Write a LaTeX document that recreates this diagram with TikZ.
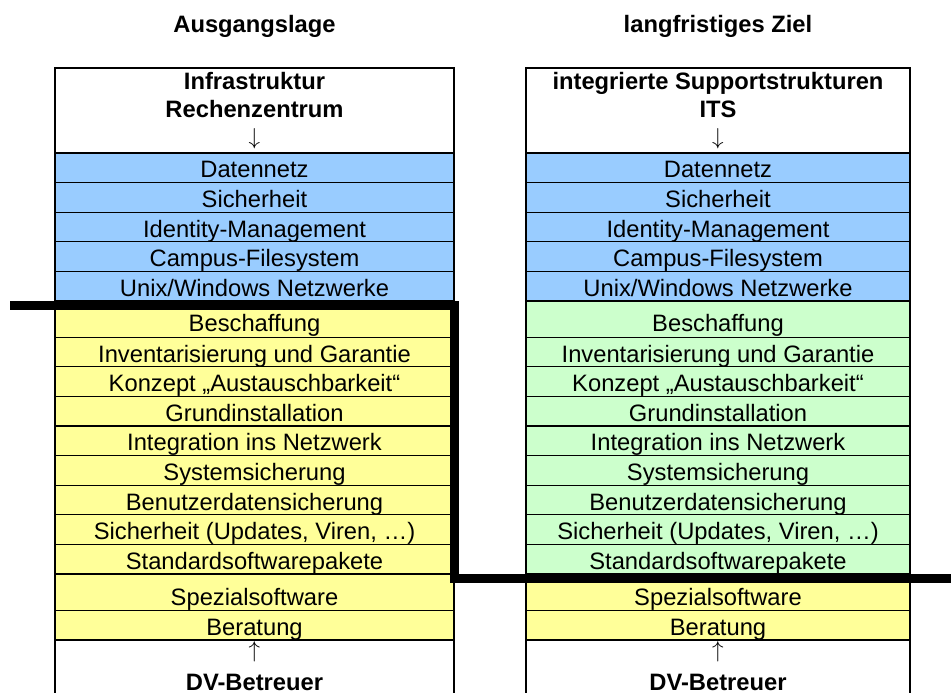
\documentclass[tikz,border=0pt]{standalone}
\usepackage{fontspec}
\setmainfont{Liberation Sans}
\usepackage{tikz}
\usetikzlibrary{
    calc,
    positioning
}
\definecolor{rzblue}{HTML}{99CCFF}
\definecolor{dvyellow}{HTML}{FFFF99}
\definecolor{itsgreen}{HTML}{CCFFCC}
\tikzstyle{frame}=[
    rectangle,
    draw=black,
    line width=0.9pt,
    inner sep=0pt,
    outer sep=0pt,
    align=center,
    font=\fontsize{17.8}{21.2}\selectfont
]
\tikzstyle{layer}=[
    frame,
    minimum height=22.2pt,
    text height=16.8pt,
    text depth=1.8pt
]
\tikzstyle{cut}=[line width=6.75pt,line join=miter,draw=black]

\begin{document}
\begin{tikzpicture}[
    node distance=0pt,
    leftcol/.style={minimum width=299.25pt},
    rightcol/.style={minimum width=288pt},
    tall/.style={minimum height=27.2pt,text height=20.5pt,text depth=1.3pt},
    netzrow/.style={layer,fill=rzblue},
    dvrow/.style={layer,fill=dvyellow},
    itsrow/.style={layer,fill=itsgreen},
    headbox/.style={frame,fill=white,minimum height=63.75pt,
    font=\fontsize{17.8}{20.2}\selectfont\bfseries},
    foot/.style={frame,fill=white,minimum height=63.75pt},
    foottext/.style={align=center,inner sep=1pt,anchor=north,
    font=\fontsize{17.8}{24.5}\selectfont\bfseries},
    title/.style={inner sep=0pt,text depth=0pt,
    font=\fontsize{17.8}{21.2}\selectfont\bfseries}
]
\useasboundingbox (0,0) rectangle (713.25pt,-519.75pt);
\node[headbox,leftcol] (rz) at (190.875pt,-82.875pt)
{Infrastruktur\\[1pt]Rechenzentrum\\$\downarrow$};
\node[headbox,rightcol,right=54pt of rz] (its)
{integrierte Supportstrukturen\\[1pt]ITS\\$\downarrow$};
\node[title,above=26.25pt of rz] (titel1) {Ausgangslage};
\node[title,above=26.25pt of its] (titel2) {langfristiges Ziel};
\node[netzrow,leftcol,below=of rz] (netz1) {Datennetz};
\node[netzrow,leftcol,below=of netz1] (sich1) {Sicherheit};
\node[netzrow,leftcol,below=of sich1] (idm1) {Identity-Management};
\node[netzrow,leftcol,below=of idm1] (campus1) {Campus-Filesystem};
\node[netzrow,leftcol,below=of campus1] (unix1) {Unix/Windows Netzwerke};
\node[dvrow,tall,leftcol,below=of unix1] (beschaff1) {Beschaffung};
\node[dvrow,leftcol,below=of beschaff1] (invent1) {Inventarisierung und Garantie};
\node[dvrow,leftcol,below=of invent1] (konzept1) {Konzept „Austauschbarkeit“};
\node[dvrow,leftcol,below=of konzept1] (grund1) {Grundinstallation};
\node[dvrow,leftcol,below=of grund1] (integ1) {Integration ins Netzwerk};
\node[dvrow,leftcol,below=of integ1] (syssich1) {Systemsicherung};
\node[dvrow,leftcol,below=of syssich1] (benutz1) {Benutzerdatensicherung};
\node[dvrow,leftcol,below=of benutz1] (update1) {Sicherheit (Updates, Viren, …)};
\node[dvrow,leftcol,below=of update1] (std1) {Standardsoftwarepakete};
\node[dvrow,tall,leftcol,below=of std1] (spezial1) {Spezialsoftware};
\node[dvrow,leftcol,below=of spezial1] (berat1) {Beratung};
\node[foot,leftcol,below=of berat1] (dv1) {};
\node[foottext] (dvtext1) at (dv1.north) {$\uparrow$\\DV-Betreuer};
\node[netzrow,rightcol,below=of its] (netz2) {Datennetz};
\node[netzrow,rightcol,below=of netz2] (sich2) {Sicherheit};
\node[netzrow,rightcol,below=of sich2] (idm2) {Identity-Management};
\node[netzrow,rightcol,below=of idm2] (campus2) {Campus-Filesystem};
\node[netzrow,rightcol,below=of campus2] (unix2) {Unix/Windows Netzwerke};
\node[itsrow,tall,rightcol,below=of unix2] (beschaff2) {Beschaffung};
\node[itsrow,rightcol,below=of beschaff2] (invent2) {Inventarisierung und Garantie};
\node[itsrow,rightcol,below=of invent2] (konzept2) {Konzept „Austauschbarkeit“};
\node[itsrow,rightcol,below=of konzept2] (grund2) {Grundinstallation};
\node[itsrow,rightcol,below=of grund2] (integ2) {Integration ins Netzwerk};
\node[itsrow,rightcol,below=of integ2] (syssich2) {Systemsicherung};
\node[itsrow,rightcol,below=of syssich2] (benutz2) {Benutzerdatensicherung};
\node[itsrow,rightcol,below=of benutz2] (update2) {Sicherheit (Updates, Viren, …)};
\node[itsrow,rightcol,below=of update2] (std2) {Standardsoftwarepakete};
\node[dvrow,tall,rightcol,below=of std2] (spezial2) {Spezialsoftware};
\node[dvrow,rightcol,below=of spezial2] (berat2) {Beratung};
\node[foot,rightcol,below=of berat2] (dv2) {};
\node[foottext] (dvtext2) at (dv2.north) {$\uparrow$\\DV-Betreuer};
\coordinate (cutstart) at ($(unix1.south west)+(-33.75pt,-3.375pt)$);
\coordinate (cutturn) at ($(unix1.south east)+(0,-3.375pt)$);
\coordinate (cutend) at ($(std2.south east)+(33.75pt,-3.375pt)$);
\draw[cut] (cutstart) -- (cutturn) |- (cutend);
\end{tikzpicture}
\end{document}
